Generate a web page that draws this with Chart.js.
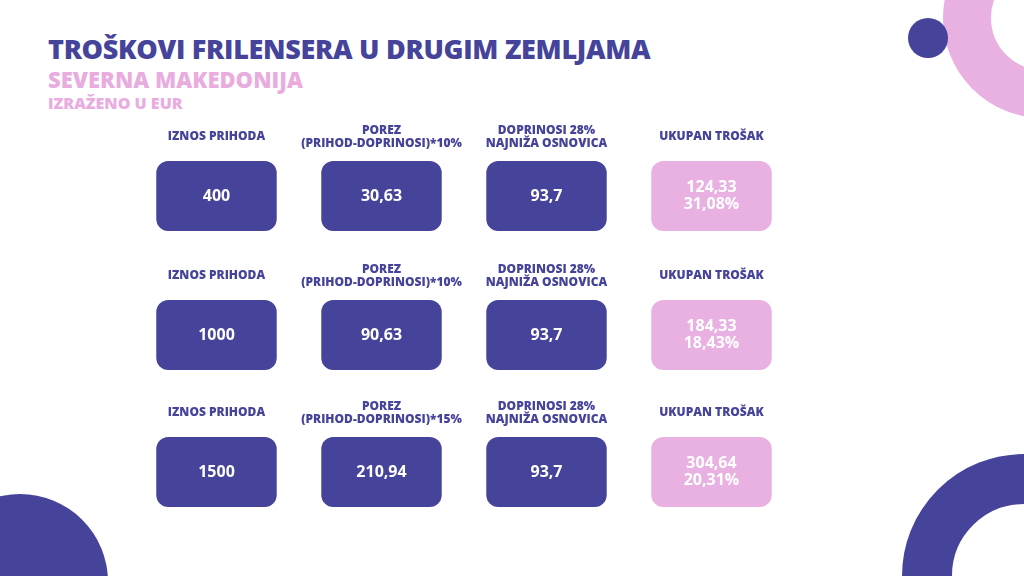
<!DOCTYPE html>
<html><head><meta charset="utf-8">
<script src="https://cdn.jsdelivr.net/npm/chart.js@4"></script>
<style>
body{margin:0;width:1024px;height:576px;background:#fff;position:relative;overflow:hidden;font-family:"Open Sans",sans-serif}
.t{position:absolute;left:48px;font-weight:800;white-space:nowrap}
.c{position:absolute;border-radius:50%;box-sizing:border-box}
#wrap{position:absolute;left:134px;top:120px;width:660px;height:400px}
</style></head><body>
<div class="t" style="top:30px;font-size:27px;color:#46449a;letter-spacing:-0.3px">TROŠKOVI FRILENSERA U DRUGIM ZEMLJAMA</div>
<div class="t" style="top:64px;font-size:22px;color:#e9acdf">SEVERNA MAKEDONIJA</div>
<div class="t" style="top:92px;font-size:16px;color:#e9acdf">IZRAŽENO U EUR</div>
<div class="c" style="left:943px;top:-82px;width:200px;height:200px;border:48px solid #e9b0e2"></div>
<div class="c" style="left:908px;top:18px;width:40px;height:40px;background:#46449a"></div>
<div class="c" style="left:-68px;top:494px;width:176px;height:176px;background:#46449a"></div>
<div class="c" style="left:902px;top:454px;width:244px;height:244px;border:50px solid #46449a"></div>
<div id="wrap"><canvas id="c"></canvas></div>
<script>
const columns = ['IZNOS PRIHODA', 'POREZ', 'DOPRINOSI', 'UKUPAN TROŠAK'];
const headers = [
  [['IZNOS PRIHODA'], ['POREZ', '(PRIHOD-DOPRINOSI)*10%'], ['DOPRINOSI 28%', 'NAJNIŽA OSNOVICA'], ['UKUPAN TROŠAK']],
  [['IZNOS PRIHODA'], ['POREZ', '(PRIHOD-DOPRINOSI)*10%'], ['DOPRINOSI 28%', 'NAJNIŽA OSNOVICA'], ['UKUPAN TROŠAK']],
  [['IZNOS PRIHODA'], ['POREZ', '(PRIHOD-DOPRINOSI)*15%'], ['DOPRINOSI 28%', 'NAJNIŽA OSNOVICA'], ['UKUPAN TROŠAK']]
];
const row1 = [['400'], ['30,63'], ['93,7'], ['124,33', '31,08%']];
const row2 = [['1000'], ['90,63'], ['93,7'], ['184,33', '18,43%']];
const row3 = [['1500'], ['210,94'], ['93,7'], ['304,64', '20,31%']];
const rowSpans = [[41, 111], [180, 250], [317, 387]];
const rows = [row1, row2, row3];

const dark = '#46449a', pink = '#e9b0e2';

const labelPlugin = {
  id: 'labels',
  afterDatasetsDraw(chart) {
    const ctx = chart.ctx;
    ctx.save();
    ctx.textAlign = 'center';
    ctx.textBaseline = 'middle';
    chart.data.datasets.forEach((ds, r) => {
      const meta = chart.getDatasetMeta(r);
      meta.data.forEach((bar, i) => {
        const cy = (bar.y + bar.base) / 2;
        const top = Math.min(bar.y, bar.base);
        ctx.fillStyle = '#fff';
        ctx.font = '700 16px "Open Sans"';
        const lines = rows[r][i];
        lines.forEach((t, k) => ctx.fillText(t, bar.x, cy + (k - (lines.length - 1) / 2) * 17));
        ctx.fillStyle = dark;
        ctx.font = '800 12px "Open Sans"';
        const h = headers[r][i];
        h.forEach((t, k) => ctx.fillText(t, bar.x, top - 24 + (k - (h.length - 1) / 2) * 13));
      });
    });
    ctx.restore();
  }
};

new Chart(document.getElementById('c'), {
  type: 'bar',
  data: {
    labels: columns,
    datasets: rowSpans.map((s, r) => ({
      label: 'row' + (r + 1),
      data: columns.map(() => s),
      backgroundColor: columns.map((c, i) => i === 3 ? pink : dark),
      borderRadius: 12,
      borderSkipped: false,
      grouped: false,
      barPercentage: 0.73,
      categoryPercentage: 1
    }))
  },
  options: {
    animation: false,
    responsive: true,
    maintainAspectRatio: false,
    layout: { padding: 0 },
    plugins: { legend: { display: false }, tooltip: { enabled: false } },
    scales: {
      x: { display: false, offset: true },
      y: { display: false, min: 0, max: 400, reverse: true }
    }
  },
  plugins: [labelPlugin]
});
</script>
</body></html>
